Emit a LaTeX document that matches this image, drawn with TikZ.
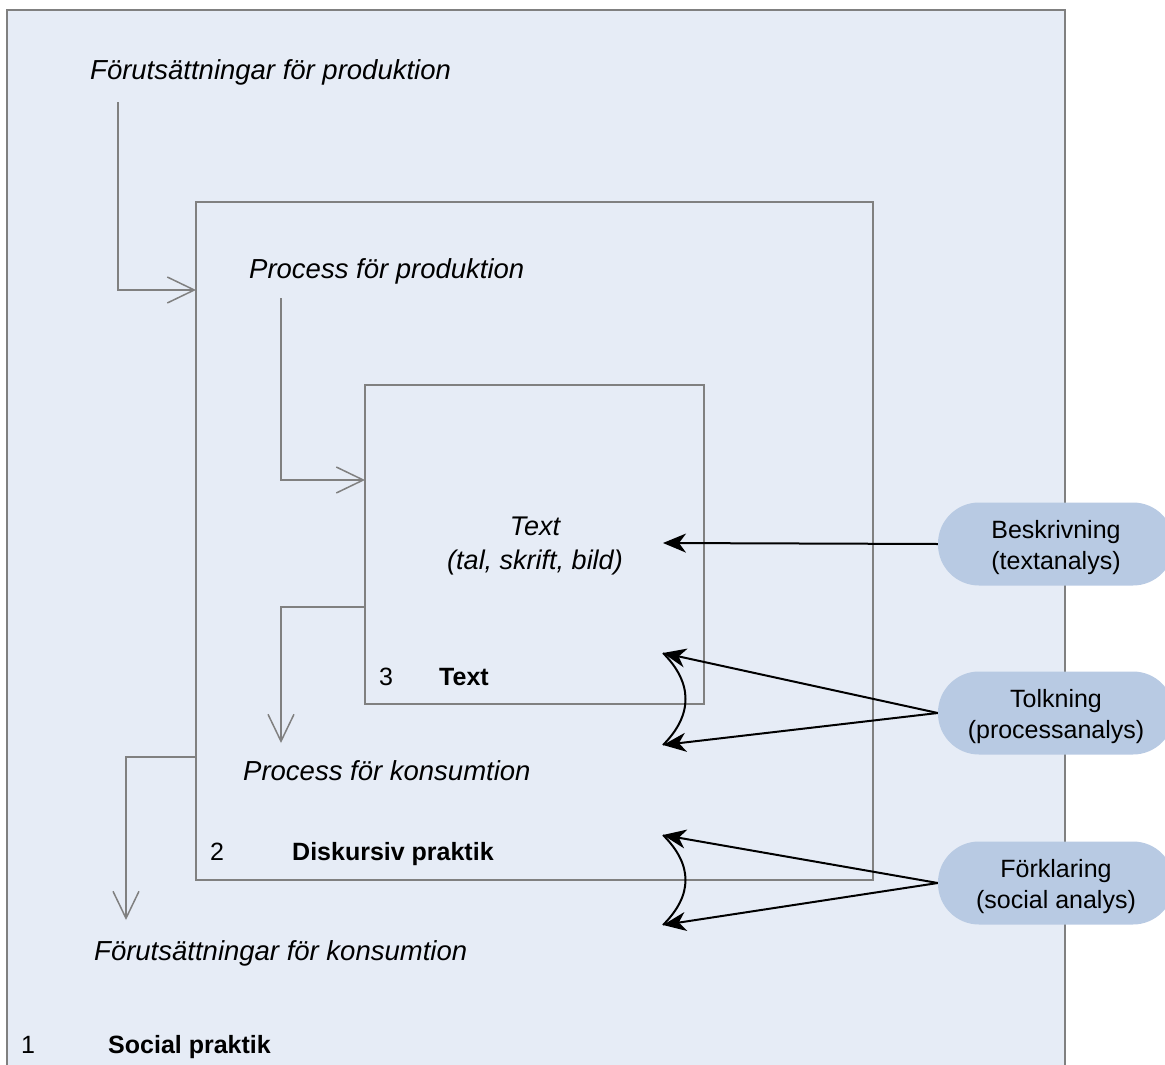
\documentclass[tikz,border=0pt]{standalone}
\usepackage{fontspec}
\setmainfont{Liberation Sans}
\usepackage{xcolor}
\usetikzlibrary{arrows.meta}
\definecolor{bgblue}{HTML}{E6ECF6}
\definecolor{pillblue}{HTML}{B8CAE3}
\definecolor{linegray}{HTML}{808080}
\newcommand{\pilltext}[2]{\raisebox{-4pt}[\height][\depth]{\begin{tabular}{@{}c@{}}#1\\#2\end{tabular}}}

\begin{document}
\begin{tikzpicture}[x=1pt,y=-1pt,
    every node/.style={inner sep=0pt, font=\fontsize{25}{31}\selectfont},
    lbl/.style={anchor=base west, font=\fontsize{27.5}{33}\selectfont\itshape},
    tag/.style={anchor=base west, font=\fontsize{25}{31}\selectfont\bfseries},
    box/.style={draw=linegray, line width=1.5pt},
    grayarrow/.style={draw=linegray, line width=1.5pt, -{Straight Barb[length=27pt,width=26pt]}},
    blackarrow/.style={draw=black, line width=2pt, -{Stealth[length=23pt,width=19pt,inset=7pt]}},
    pill/.style={fill=pillblue, rounded corners=41pt, minimum width=236pt, minimum height=83pt}]
    \useasboundingbox (0,0) rectangle (1165,1065);
    \fill[bgblue] (7,10) rectangle (1065,1070);
    \draw[box] (7,1070) -- (7,10) -- (1065,10) -- (1065,1070);
    \node[box, minimum width=677pt, minimum height=678pt] (diskurs) at (534.5,541) {};
    \node[box, minimum width=339pt, minimum height=319pt] (textbox) at (534.5,544.5) {};

    \node[lbl] (forprod) at (90,80) {Förutsättningar för produktion};
    \node[lbl] (procprod) at (249,278) {Process för produktion};
    \node[align=center, font=\fontsize{27}{34}\selectfont\itshape] (textmid) at (535,546) {Text\\(tal, skrift, bild)};
    \node[anchor=base west] (n3) at (379,685) {3};
    \node[tag] (textlbl) at (439,685) {Text};
    \node[lbl] (prockons) at (243,780) {Process för konsumtion};
    \node[anchor=base west] (n2) at (210,860) {2};
    \node[tag] (disklbl) at (292,860) {Diskursiv praktik};
    \node[lbl] (forkons) at (94,960) {Förutsättningar för konsumtion};
    \node[anchor=base west] (n1) at (21,1053) {1};
    \node[tag] (sociallbl) at (108,1053) {Social praktik};

    \coordinate (prodtop) at (118,102);
    \coordinate (prodin) at (196,290);
    \coordinate (proctop) at (281,298);
    \coordinate (procin) at (365,480);
    \coordinate (konsout) at (365,607);
    \coordinate (konsin) at (281,743);
    \coordinate (forout) at (196,757);
    \coordinate (forin) at (126,920);
    \draw[grayarrow] (prodtop) |- (prodin);
    \draw[grayarrow] (proctop) |- (procin);
    \draw[grayarrow] (konsout) -| (konsin);
    \draw[grayarrow] (forout) -| (forin);

    \node[pill] (beskr) at (1056,544) {\pilltext{Beskrivning}{(textanalys)}};
    \node[pill] (tolk) at (1056,713) {\pilltext{Tolkning}{(processanalys)}};
    \node[pill] (forkl) at (1056,883) {\pilltext{Förklaring}{(social analys)}};

    \coordinate (beskrtip) at (663,543);
    \coordinate (tolkup) at (663,653);
    \coordinate (tolkdown) at (663,745);
    \coordinate (forklup) at (663,835);
    \coordinate (forkldown) at (663,925);
    \draw[blackarrow] (beskr.west) -- (beskrtip);
    \draw[blackarrow] (tolk.west) -- (tolkup);
    \draw[blackarrow] (tolk.west) -- (tolkdown);
    \draw[blackarrow] (forkl.west) -- (forklup);
    \draw[blackarrow] (forkl.west) -- (forkldown);
    \draw[line width=2pt] (tolkup) .. controls +(30,30) and +(30,-30) .. (tolkdown);
    \draw[line width=2pt] (forklup) .. controls +(30,30) and +(30,-30) .. (forkldown);
\end{tikzpicture}
\end{document}
